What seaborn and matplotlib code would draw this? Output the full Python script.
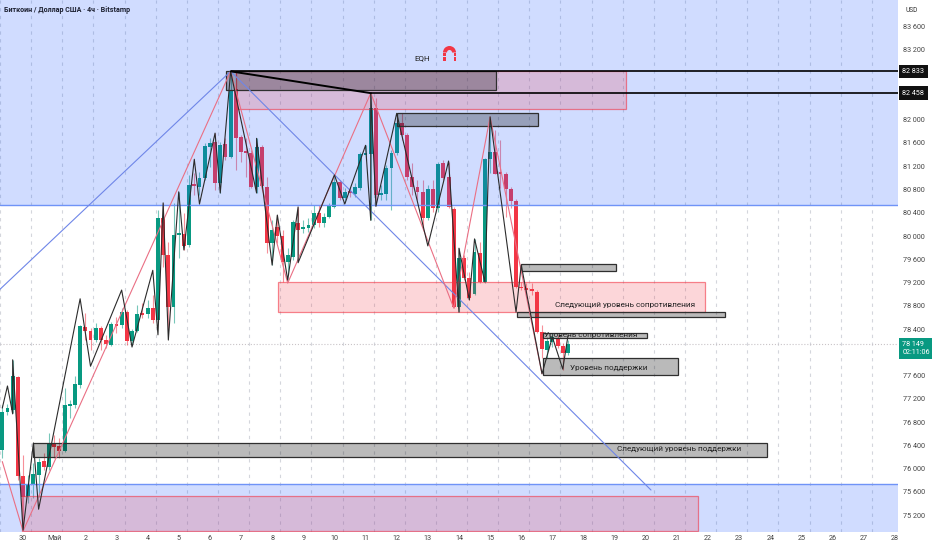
import numpy as np
import pandas as pd
import matplotlib
matplotlib.use('Agg')
import matplotlib.pyplot as plt
import seaborn as sns
from matplotlib.patches import Rectangle, Wedge
from matplotlib.transforms import IdentityTransform
from matplotlib.colors import to_rgba

# 4h свечи, цены
opens = [76320, 76970, 77010, 77570, 75870, 75530, 75730, 75890, 76130, 76030,
         76440, 76390, 76300, 77080, 77090, 77440, 78430, 78370, 78210, 78420,
         78210, 78120, 78490, 78470, 78690, 78190, 78370, 78670, 78660, 78760,
         78550, 80310, 79670, 78780, 80020, 80030, 79840, 80890, 80840, 81000,
         81530, 81620, 80910, 81580, 81360, 82530, 81700, 81460, 81430, 80840,
         81530, 80840, 79880, 80150, 80000, 79550, 79640, 80220, 80120, 80140,
         80190, 80390, 80220, 80330, 80500, 80930, 80650, 80760, 80720, 80820,
         81390, 81410, 82200, 80700, 80720, 81170, 81430, 81940, 81740, 81010,
         80840, 80760, 80310, 80810, 80480, 81250, 81010, 80460, 78780, 79620,
         79280, 79000, 79710, 79210, 81320, 81440, 81080, 81070, 80810, 80600,
         79120, 79100, 79070, 79040, 78350, 78040, 78180, 78240, 78110, 77990]
closes = [76970, 77040, 77590, 75870, 75510, 75730, 75910, 76110, 76030, 76440,
          76370, 76300, 77090, 77110, 77450, 78450, 78370, 78210, 78420, 78210,
          78140, 78490, 78450, 78690, 78190, 78370, 78660, 78640, 78760, 78550,
          80310, 79670, 78780, 80020, 80050, 79830, 80880, 80860, 81000, 81550,
          81600, 80910, 81560, 81360, 82510, 81680, 81440, 81430, 80840, 81530,
          80860, 79880, 80100, 80000, 79550, 79670, 80240, 80100, 80150, 80190,
          80390, 80220, 80330, 80520, 80930, 80650, 80760, 80740, 80840, 81410,
          81430, 82200, 80700, 80740, 81170, 81430, 81940, 81740, 81010, 80840,
          80760, 80310, 80810, 80480, 81240, 81000, 80500, 78780, 79620, 79280,
          78930, 79720, 79210, 81320, 81440, 81070, 81070, 80810, 80600, 79120,
          79100, 79070, 79050, 78350, 78060, 78190, 78260, 78110, 77990, 78149]
highs = [77090, 77110, 77870, 77590, 76230, 75890, 76090, 76180, 76270, 76610,
         76580, 76520, 77380, 77180, 77590, 78470, 78670, 78420, 78500, 78450,
         78300, 78520, 78610, 78760, 78730, 78400, 78810, 78850, 78900, 78980,
         80450, 80570, 79900, 80570, 80760, 80390, 81050, 81080, 81100, 81600,
         81680, 81770, 81620, 81680, 82820, 82820, 81740, 81680, 81480, 81680,
         81560, 81010, 80270, 80360, 80100, 79790, 80270, 80500, 80270, 80310,
         80530, 80530, 80390, 80570, 81070, 80960, 80820, 80840, 80910, 81440,
         81560, 82460, 82370, 80880, 81220, 81480, 82110, 82110, 81770, 81250,
         80960, 80960, 80880, 80960, 81270, 81310, 81270, 80500, 79790, 79670,
         79380, 79950, 79900, 81340, 82050, 81820, 81650, 81100, 80840, 80640,
         79210, 79190, 79190, 79070, 78470, 78260, 78330, 78300, 78160, 78210]
lows = [76180, 76920, 76950, 75800, 74940, 75410, 75490, 75510, 75970, 75970,
        76180, 76180, 76280, 76870, 77040, 77380, 78210, 78040, 78180, 78040,
        78070, 78110, 78330, 78420, 78120, 78120, 78350, 78590, 78590, 78500,
        78520, 79470, 78380, 78500, 79620, 79760, 79810, 80700, 80700, 80960,
        81190, 80790, 80740, 81310, 81340, 81130, 81270, 81010, 80820, 80740,
        80790, 79710, 79500, 79880, 79210, 79330, 79590, 79670, 80050, 80070,
        80140, 80150, 80150, 80310, 80480, 80620, 80580, 80670, 80670, 80790,
        81310, 80270, 80530, 80620, 80620, 80450, 81390, 81650, 80960, 80700,
        80620, 80140, 80270, 80410, 80410, 80960, 80480, 78760, 78690, 79240,
        78900, 78980, 79190, 79190, 81080, 81070, 80820, 80330, 80480, 79100,
        79070, 78980, 78980, 78330, 77900, 77900, 78090, 78070, 77690, 77950]

# Вершины зигзага: номер свечи и цена
zig_bars = [1, 2, 3, 3, 5, 7, 8, 16, 18, 24, 26, 30, 31, 32, 33, 35, 36, 38, 39, 42,
            43, 45, 50, 50, 53, 54, 56, 58, 58, 65, 67, 71, 72, 72, 73, 77, 83, 87,
            89, 89, 91, 92, 94, 95, 100, 101, 105, 107, 109, 110]
zig_prices = [77040, 77420, 76940, 77870, 74940, 76440, 75300, 78920, 77760, 79070,
              78090, 79410, 78300, 80570, 78210, 80760, 79760, 81320, 80550, 81770,
              80740, 82830, 80740, 81680, 79500, 80360, 79240, 80500, 79540, 81050,
              80550, 81560, 80270, 82460, 80510, 82110, 79830, 81290, 78690, 79790,
              78900, 79950, 79210, 82050, 78690, 79500, 77630, 78260, 77710, 78280]
wave_bars = [1, 5, 45, 56, 72, 88, 95, 105]
wave_prices = [76120, 74925, 82833, 79190, 82458, 78760, 82046, 77630]
trend_bars = [0.4, 45, 126]
trend_prices = [79070, 82833, 75630]

# Зоны: левый и правый день, верх и низ
pink_zones = [(6.84, 19.36, 82833, 82183), (8.19, 21.90, 79208, 78692), (-0.03, 21.68, 75527, 74925)]
grey_zones = [(6.52, 15.19, 82833, 82510), (12.01, 16.54, 82114, 81891), (15.99, 19.04, 79517, 79397),
              (15.86, 22.54, 78692, 78606), (16.70, 20.04, 78330, 78244), (16.70, 21.03, 77909, 77608),
              (0.32, 23.89, 76438, 76198)]
blue_top = 80532
blue_bottom = 75733
level_high = 82833
level_low = 82458
last_price = 78149

day_labels = ['30', 'Май'] + [str(d) for d in range(2, 29)]
price_ticks = list(range(75200, 83601, 400))
hidden_ticks = [82800, 82400, 78000]  # закрыты плашками цен

notes = ['EQH', 'Следующий уровень сопротивления', 'Уровень сопротивления', 'Уровень поддержки',
         'Следующий уровень поддержки']
note_days = [12.56, 17.08, 16.74, 17.56, 19.08]
note_prices = [83060, 78810, 78290, 77725, 76335]

GREEN = '#089981'
RED = '#f23645'
BLUE = '#2962ff'


def bar_days(bars):
    return (np.asarray(bars, dtype=float) - 5) / 6


def price_label(p):
    return f'{p // 1000} {p % 1000:03d}'


sns.set_theme(style='white')
plt.rcParams['font.family'] = ['Roboto', 'DejaVu Sans']

candles = pd.DataFrame({'open': opens, 'close': closes, 'high': highs, 'low': lows})
candles['day'] = bar_days(np.arange(1, len(candles) + 1))
candles['color'] = np.where(candles['close'] >= candles['open'], GREEN, RED)

fig = plt.figure(figsize=(9.32, 5.5), dpi=100)
ax = fig.add_axes([0, 18 / 550, 898 / 932, 532 / 550])
ax.set_xlim(-0.739, 28.1)
ax.set_ylim(74908, 84060)

# Сетка сдвинута относительно подписей дат, как на оригинале
ax.set_xticks(np.arange(len(day_labels)))
ax.set_xticklabels(day_labels, fontsize=5.2, color='#444444')
ax.set_xticks(np.arange(-1, 28) + 0.26, minor=True)
ax.grid(which='minor', axis='x', color='#d4d6dc', ls=(0, (3, 4)), lw=0.8, zorder=0)
ax.tick_params(axis='x', which='both', length=0, pad=2.5)
ax.yaxis.tick_right()
ax.set_yticks(price_ticks)
ax.set_yticklabels(['' if p in hidden_ticks else price_label(p) for p in price_ticks], fontsize=5.2, color='#444444')
ax.tick_params(axis='y', length=0, pad=3.5)
sns.despine(ax=ax, left=True, bottom=True, right=True, top=True)

ax.axhline(last_price, color='#c9c4c8', ls=':', lw=0.8, zorder=1)

# Свечи
ax.vlines(candles['day'], candles['low'], candles['high'], colors=candles['color'], lw=0.8, alpha=0.55, zorder=2)
ax.bar(candles['day'], (candles['close'] - candles['open']).abs().clip(lower=30),
       bottom=candles[['open', 'close']].min(axis=1), width=0.125, color=candles['color'], lw=0, zorder=2)

# Синие зоны поверх свечей
x0, x1 = ax.get_xlim()
y0, y1 = ax.get_ylim()
ax.add_patch(Rectangle((x0, blue_top), x1 - x0, y1 - blue_top, fc=to_rgba(BLUE, 0.22), ec='none', zorder=3))
ax.add_patch(Rectangle((x0, y0), x1 - x0, blue_bottom - y0, fc=to_rgba(BLUE, 0.22), ec='none', zorder=3))
ax.axhline(blue_top, color='#6f93f7', lw=1, zorder=3)
ax.axhline(blue_bottom, color='#6f93f7', lw=1, zorder=3)

for left, right, top, bottom in pink_zones:
    ax.add_patch(Rectangle((left, bottom), right - left, top - bottom, fc=to_rgba(RED, 0.2),
                           ec=to_rgba(RED, 0.6), lw=0.9, zorder=4))
for left, right, top, bottom in grey_zones:
    ax.add_patch(Rectangle((left, bottom), right - left, top - bottom, fc=(0, 0, 0, 0.27),
                           ec='#2f2f2f', lw=0.9, zorder=4))

# Линии разметки
sns.lineplot(x=bar_days(trend_bars), y=trend_prices, sort=False, estimator=None, color='#6f86e8', lw=0.8, ax=ax, zorder=5)
sns.lineplot(x=bar_days(wave_bars), y=wave_prices, sort=False, estimator=None, color='#ea6f84', lw=0.8, ax=ax, zorder=5)
sns.lineplot(x=bar_days(zig_bars), y=zig_prices, sort=False, estimator=None, color='#2b2b2b', lw=0.8, ax=ax, zorder=6)
sns.lineplot(x=bar_days([45, 72]), y=[level_high, level_low], sort=False, estimator=None, color='black', lw=1.4, ax=ax, zorder=6)
ax.hlines(level_high, bar_days(45), x1, color='black', lw=1.2, zorder=6)
ax.hlines(level_low, bar_days(72), x1, color='black', lw=1.2, zorder=6)

for label, day, price in zip(notes, note_days, note_prices):
    ax.text(day, price, label, fontsize=5.9, color='#222222', va='center', ha='left', zorder=7)

# Плашки цен справа
trans = ax.get_yaxis_transform()
for level in [level_high, level_low]:
    ax.text(1.005, level, price_label(level), transform=trans, fontsize=5.2, color='white',
            ha='left', va='center', clip_on=False, zorder=8,
            bbox=dict(boxstyle='square,pad=0.45', fc='#111111', ec='none'))
ax.text(1.005, 78066, price_label(last_price) + '\n02:11:06', transform=trans, fontsize=5.2,
        color='white', ha='left', va='center', clip_on=False, zorder=8, linespacing=1.2,
        bbox=dict(boxstyle='square,pad=0.45', fc=GREEN, ec='none'))

# Заголовок и валюта
fig.text(4 / 932, 1 - 10 / 550, 'Биткоин / Доллар США · 4ч · Bitstamp', fontsize=5.1, fontweight='bold',
         color='#1c2030', va='center', ha='left')
fig.text(905 / 932, 1 - 11 / 550, 'USD', fontsize=4.8, color='#333333', va='center', ha='left')

# Значок магнита рядом с EQH (в пикселях)
H = 550
id_tr = IdentityTransform()
fig.add_artist(Wedge((449.5, H - 52.5), 6.5, 0, 180, width=4, fc=RED, ec='none', transform=id_tr))
for leg_x in [443, 453.5]:
    fig.add_artist(Rectangle((leg_x, H - 56), 2.5, 3.5, fc=RED, ec='none', transform=id_tr))
    fig.add_artist(Rectangle((leg_x, H - 60.5), 2.5, 3.5, fc=RED, ec='none', transform=id_tr))

fig.savefig('out.png', dpi=100)
